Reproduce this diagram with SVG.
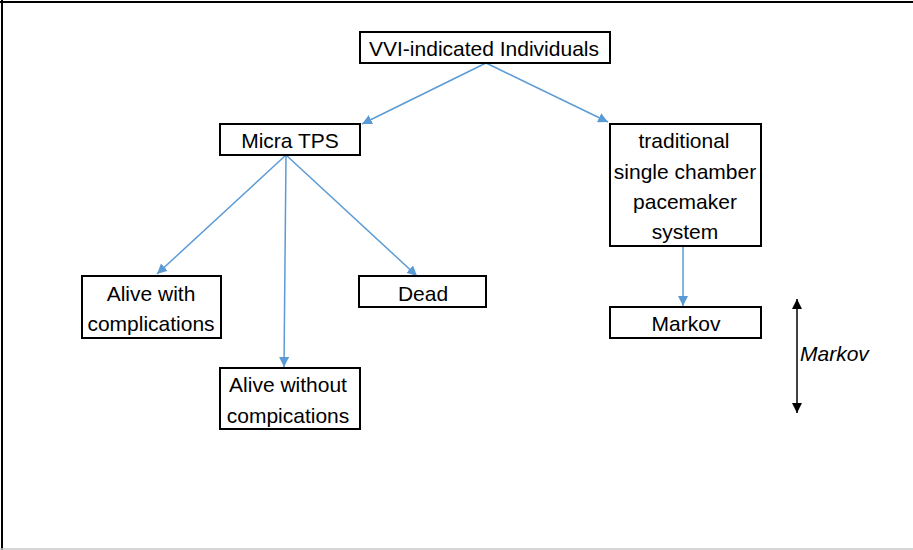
<svg xmlns="http://www.w3.org/2000/svg" width="913" height="550" viewBox="0 0 913 550">
<style>
.box{fill:#fff;stroke:#000;stroke-width:2}
.t{font-family:"Liberation Sans",Arial,sans-serif;font-size:21px;fill:#000;text-anchor:middle}
.c{stroke:#5B9BD5;stroke-width:1.5;fill:none;marker-end:url(#ah)}
</style>
<defs>
<marker id="ah" viewBox="0 0 10 10" refX="10" refY="5" markerWidth="10" markerHeight="10" markerUnits="userSpaceOnUse" orient="auto"><path d="M0,0 L10,5 L0,10 z" fill="#5B9BD5"/></marker>
<marker id="bh" viewBox="0 0 10 10" refX="10" refY="5" markerWidth="10" markerHeight="10" markerUnits="userSpaceOnUse" orient="auto-start-reverse"><path d="M0,0 L10,5 L0,10 z" fill="#000"/></marker>
</defs>
<rect x="0" y="0" width="913" height="550" fill="#fff"/>
<line x1="0" y1="2" x2="913" y2="2" stroke="#000" stroke-width="2"/>
<line x1="2" y1="0" x2="2" y2="550" stroke="#000" stroke-width="2"/>
<line x1="0" y1="549" x2="913" y2="549" stroke="#c8c8c8" stroke-width="1.5"/>
<g id="connectors">
<line class="c" x1="486" y1="63" x2="362" y2="124"/>
<line class="c" x1="486" y1="63" x2="608" y2="122"/>
<line class="c" x1="286" y1="155" x2="157" y2="274"/>
<line class="c" x1="286" y1="155" x2="284" y2="367"/>
<line class="c" x1="286" y1="155" x2="417" y2="276"/>
<line class="c" x1="683" y1="246" x2="683" y2="306"/>
<line x1="797" y1="299" x2="797" y2="413" stroke="#000" stroke-width="1.5" marker-start="url(#bh)" marker-end="url(#bh)"/>
</g>
<g id="vvi"><rect class="box" x="360" y="32" width="250" height="31"/><text class="t" x="484" y="56">VVI-indicated Individuals</text></g>
<g id="micra"><rect class="box" x="220" y="124" width="140" height="31"/><text class="t" x="290" y="148">Micra TPS</text></g>
<g id="traditional"><rect class="box" x="610" y="124" width="151" height="122"/>
<text class="t" x="684" y="148">traditional</text>
<text class="t" x="685" y="179">single chamber</text>
<text class="t" x="685" y="209">pacemaker</text>
<text class="t" x="685" y="239">system</text></g>
<g id="markov"><rect class="box" x="610" y="307" width="151" height="31"/><text class="t" x="686" y="331">Markov</text></g>
<g id="alivewith"><rect class="box" x="82" y="276" width="139" height="62"/>
<text class="t" x="151" y="301">Alive with</text>
<text class="t" x="151" y="331">complications</text></g>
<g id="dead"><rect class="box" x="359" y="276" width="127" height="31"/><text class="t" x="423" y="301">Dead</text></g>
<g id="alivewithout"><rect class="box" x="220" y="368" width="140" height="61"/>
<text class="t" x="288" y="392">Alive without</text>
<text class="t" x="288" y="423">compications</text></g>
<g id="markovlabel"><text class="t" x="800" y="361" style="text-anchor:start;font-style:italic">Markov</text></g>
</svg>
